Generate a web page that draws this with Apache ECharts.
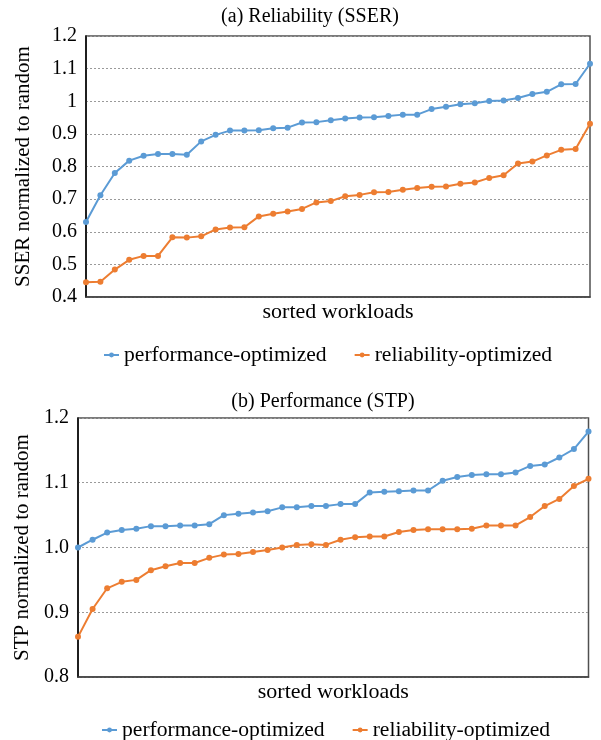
<!DOCTYPE html>
<html>
<head>
<meta charset="utf-8">
<script src="https://cdn.jsdelivr.net/npm/echarts@6/dist/echarts.min.js"></script>
<style>html,body{margin:0;padding:0;background:#fff;}#c{width:601px;height:740px;}</style>
</head>
<body>
<div id="c"></div>
<script>
const seriesNames = ['performance-optimized', 'reliability-optimized'];
const sserPerf = [0.630, 0.712, 0.780, 0.818, 0.833, 0.838, 0.838, 0.836, 0.877, 0.897, 0.910, 0.910,
  0.911, 0.917, 0.919, 0.935, 0.936, 0.942, 0.947, 0.950, 0.951, 0.955, 0.959, 0.959,
  0.976, 0.983, 0.991, 0.994, 1.001, 1.002, 1.010, 1.022, 1.029, 1.052, 1.053, 1.115];
const sserRel = [0.445, 0.447, 0.484, 0.514, 0.526, 0.526, 0.583, 0.582, 0.586, 0.607, 0.613, 0.614,
  0.647, 0.655, 0.662, 0.670, 0.690, 0.694, 0.709, 0.713, 0.721, 0.722, 0.729, 0.734,
  0.738, 0.739, 0.747, 0.751, 0.765, 0.773, 0.809, 0.815, 0.834, 0.851, 0.854, 0.931];
const stpPerf = [1.000, 1.012, 1.023, 1.027, 1.029, 1.033, 1.033, 1.034, 1.034, 1.036, 1.050, 1.052,
  1.054, 1.056, 1.062, 1.062, 1.064, 1.064, 1.067, 1.067, 1.085, 1.086, 1.087, 1.088,
  1.088, 1.103, 1.109, 1.112, 1.113, 1.113, 1.116, 1.126, 1.128, 1.139, 1.152, 1.179];
const stpRel = [0.862, 0.905, 0.937, 0.947, 0.950, 0.965, 0.971, 0.976, 0.976, 0.984, 0.989, 0.990,
  0.993, 0.996, 1.000, 1.004, 1.005, 1.004, 1.012, 1.016, 1.017, 1.017, 1.024, 1.027,
  1.028, 1.028, 1.028, 1.029, 1.034, 1.034, 1.034, 1.047, 1.064, 1.075, 1.095, 1.106];
const workloads = sserPerf.map((_, i) => 'w' + (i + 1));
const titles = ['(a) Reliability (SSER)', '(b) Performance (STP)'];
const yNames = ['SSER normalized to random', 'STP normalized to random'];
const xName = 'sorted workloads';

const FONT = 'Liberation Serif';
const BLUE = '#5B9BD5', ORANGE = '#ED7D31';
function txt(size) { return { fontFamily: FONT, fontSize: size, color: '#000' }; }

function yAxis(gi, min, max, fmt, gap) {
  return {
    type: 'value', gridIndex: gi, min: min, max: max, interval: 0.1,
    name: yNames[gi], nameLocation: 'middle', nameGap: gap,
    nameTextStyle: txt(21),
    axisLine: { show: true, lineStyle: { color: '#000', width: 1.5 } },
    axisTick: { show: false },
    axisLabel: Object.assign({ margin: 9, formatter: fmt }, txt(20)),
    splitLine: { show: true, lineStyle: { color: '#9a9a9a', type: [2, 2], width: 1 } }
  };
}
function xAxis(gi) {
  return {
    type: 'category', gridIndex: gi, data: workloads, boundaryGap: false,
    name: xName, nameLocation: 'middle', nameGap: 15,
    nameTextStyle: Object.assign({ verticalAlign: 'middle' }, txt(22)),
    axisLine: { show: true, lineStyle: { color: '#404040', width: 1.5 } },
    axisTick: { show: false }, axisLabel: { show: false }, splitLine: { show: false }
  };
}
function line(gi, name, data, color) {
  return {
    type: 'line', name: name, xAxisIndex: gi, yAxisIndex: gi, data: data,
    symbol: 'circle', symbolSize: 6, showSymbol: true,
    lineStyle: { color: color, width: 2 }, itemStyle: { color: color },
    emphasis: { disabled: true }, animation: false
  };
}

const chart = echarts.init(document.getElementById('c'), null, { renderer: 'canvas' });
chart.setOption({
  backgroundColor: '#fff',
  animation: false,
  title: [
    { text: titles[0], left: 305, top: 2, textAlign: 'center', textStyle: Object.assign({ fontWeight: 'normal' }, txt(20)) },
    { text: titles[1], left: 318, top: 387, textAlign: 'center', textStyle: Object.assign({ fontWeight: 'normal' }, txt(20)) }
  ],
  legend: [
    { data: seriesNames, left: 98, top: 339, itemGap: 27, itemWidth: 15, itemHeight: 6, textStyle: txt(21.6) },
    { data: seriesNames, left: 96, top: 714, itemGap: 27, itemWidth: 15, itemHeight: 6, textStyle: txt(21.6) }
  ],
  grid: [
    { left: 86, top: 36, right: 11, height: 261, show: true, borderColor: '#505050', borderWidth: 1.5, containLabel: false },
    { left: 78, top: 418, right: 12.5, height: 259, show: true, borderColor: '#505050', borderWidth: 1.5, containLabel: false }
  ],
  xAxis: [xAxis(0), xAxis(1)],
  yAxis: [
    yAxis(0, 0.4, 1.2, v => String(+v.toFixed(1)), 52),
    yAxis(1, 0.8, 1.2, v => v.toFixed(1), 44)
  ],
  series: [
    line(0, seriesNames[0], sserPerf, BLUE),
    line(0, seriesNames[1], sserRel, ORANGE),
    line(1, seriesNames[0], stpPerf, BLUE),
    line(1, seriesNames[1], stpRel, ORANGE)
  ]
});
</script>
</body>
</html>
